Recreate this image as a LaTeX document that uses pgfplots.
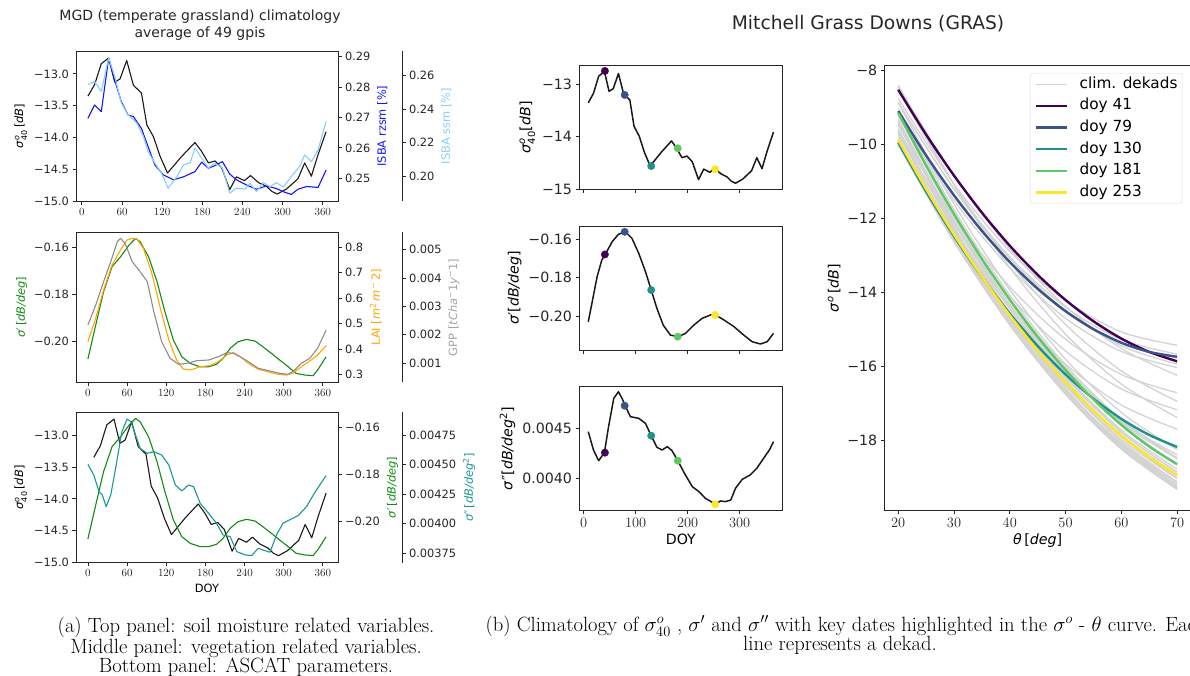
\documentclass[border=0pt]{standalone}
\usepackage{amsmath}
\usepackage{fontspec}
\usepackage{pgfplots}
\usepackage{pgfplotstable}
\pgfplotsset{compat=1.18}
\newfontfamily\dv{DejaVu Sans}
\newcommand{\fa}{\dv\fontsize{11.4pt}{13.7pt}\selectfont}
\newcommand{\fb}{\dv\fontsize{14.2pt}{17pt}\selectfont}
\newcommand{\sfz}{\textit{σ}$^{\textit{o}}_{\text{40}}$}
\definecolor{virA}{HTML}{440154}
\definecolor{virB}{HTML}{3B528B}
\definecolor{virC}{HTML}{21918C}
\definecolor{virD}{HTML}{5EC962}
\definecolor{virE}{HTML}{FDE725}
\definecolor{mblue}{HTML}{1414FF}
\definecolor{skyb}{HTML}{87CEFA}
\definecolor{mgreen}{HTML}{138A13}
\definecolor{morange}{HTML}{FFA500}
\definecolor{mgray}{HTML}{8C8C8C}
\definecolor{dcyan}{HTML}{1A9696}
\definecolor{clim}{HTML}{D3D3D3}

\pgfplotsset{
  base/.style={scale only axis, tick align=outside, major tick length=3.5pt,
    tick style={black!85, line width=0.8pt},
    axis line style={black!85, line width=0.8pt},
    ticklabel style={text=black!85},
    scaled x ticks=false, scaled y ticks=false,
    xtick pos=left, ytick pos=left,
    every axis plot/.append style={line join=round}},
  small/.style={base, ticklabel style={font=\fa}, label style={font=\fa}},
  big/.style={base, ticklabel style={font=\fb}, label style={font=\fb}},
  twin/.style={axis x line=none, axis y line*=right, ytick pos=right, yticklabel pos=right},
}

% sigma0 at 40 deg, dekad climatology
\pgfplotstableread{
doy s
9 -13.35
19 -13.17
29 -12.84
40 -12.75
49 -13.13
57 -13.08
67 -12.79
77 -13.18
89 -13.30
97 -13.80
107 -13.99
117 -14.30
128 -14.56
149 -14.30
169 -14.08
179 -14.22
189 -14.40
199 -14.37
209 -14.48
221 -14.82
231 -14.62
243 -14.68
252 -14.60
264 -14.71
276 -14.77
284 -14.85
292 -14.89
306 -14.81
323 -14.65
333 -14.40
343 -14.61
353 -14.27
365 -13.91
}\sigforty

% ISBA root-zone soil moisture
\pgfplotstableread{
doy v
9 0.2697
19 0.2741
29 0.2719
40 0.2895
49 0.2823
59 0.2752
69 0.2708
77 0.2703
89 0.2664
99 0.2604
109 0.2544
122 0.2511
137 0.2495
152 0.2505
169 0.2522
179 0.2553
189 0.2533
199 0.2542
210 0.2555
221 0.2514
231 0.2495
246 0.2478
261 0.2464
276 0.2475
291 0.2466
301 0.2456
313 0.2447
323 0.2464
336 0.2473
353 0.2470
365 0.2527
}\rzsm

% ISBA surface soil moisture
\pgfplotstableread{
doy v
9 0.2546
19 0.2566
29 0.2506
40 0.2707
49 0.2596
59 0.2437
69 0.2366
82 0.2317
92 0.2236
99 0.2146
109 0.2077
119 0.2017
129 0.1927
142 0.1996
152 0.2066
162 0.2080
169 0.2167
179 0.2107
189 0.2047
199 0.2077
210 0.2047
221 0.1897
231 0.1927
244 0.1921
251 0.1957
261 0.1906
271 0.1960
281 0.1936
291 0.1960
301 0.1933
313 0.1996
326 0.2060
333 0.2126
343 0.2086
353 0.2156
365 0.2326
}\ssm

% slope (daily, smoothed)
\pgfplotstableread{
doy v
0 -0.2073
12 -0.1929
24 -0.1788
37 -0.1682
50 -0.1640
63 -0.1590
73 -0.1562
80 -0.1576
93 -0.1640
106 -0.1746
118 -0.1873
131 -0.1993
144 -0.2064
157 -0.2092
172 -0.2106
185 -0.2106
197 -0.2096
207 -0.2071
218 -0.2028
230 -0.2000
243 -0.1990
256 -0.1997
268 -0.2021
281 -0.2049
294 -0.2078
307 -0.2106
319 -0.2134
332 -0.2141
345 -0.2144
352 -0.2120
365 -0.2064
}\slopeL

% leaf area index
\pgfplotstableread{
doy v
0 0.4286
12 0.5205
24 0.632
37 0.730
50 0.789
60 0.829
68 0.835
75 0.833
85 0.796
98 0.698
111 0.560
124 0.435
136 0.356
146 0.321
157 0.317
172 0.330
187 0.334
200 0.350
213 0.376
223 0.385
233 0.370
246 0.343
261 0.320
276 0.310
291 0.300
304 0.297
314 0.304
327 0.330
342 0.356
352 0.376
365 0.413
}\lai

% gross primary production
\pgfplotstableread{
doy v
0 0.002341
12 0.003047
24 0.003871
35 0.004576
45 0.005282
50 0.005400
57 0.005224
68 0.004576
80 0.004224
91 0.003871
101 0.002812
113 0.001753
126 0.001165
139 0.000953
152 0.000988
167 0.001082
185 0.001106
200 0.001224
213 0.001365
223 0.001341
233 0.001224
246 0.001047
261 0.000812
279 0.000718
294 0.000635
307 0.000600
317 0.000753
327 0.000988
340 0.001165
352 0.001518
365 0.002165
}\gpp

% curvature (daily, smoothed)
\pgfplotstableread{
doy v
0 0.004502
9 0.004412
17 0.004271
22 0.004243
28 0.004144
35 0.004243
42 0.004454
52 0.004778
60 0.004885
66 0.004863
73 0.004750
80 0.004637
91 0.004595
101 0.004609
113 0.004581
124 0.004496
134 0.004327
144 0.004277
154 0.004327
162 0.004313
172 0.004172
185 0.004088
197 0.004004
207 0.003905
218 0.003891
228 0.003764
241 0.003736
251 0.003730
261 0.003792
268 0.003778
279 0.003758
289 0.003905
299 0.004004
309 0.004032
322 0.004068
335 0.004144
347 0.004257
357 0.004342
365 0.004406
}\curvL

% slope, GRAS climatology
\pgfplotstableread{
doy v
9 -0.2028
16 -0.1933
26 -0.1795
35 -0.1709
42 -0.1678
55 -0.1614
67 -0.1576
80 -0.1562
93 -0.1597
106 -0.1674
119 -0.1769
130 -0.1864
141 -0.1959
153 -0.2045
167 -0.2097
182 -0.2105
196 -0.2088
212 -0.2045
228 -0.2010
244 -0.1993
254 -0.1993
270 -0.2019
289 -0.2053
308 -0.2097
324 -0.2131
340 -0.2143
353 -0.2131
365 -0.2088
}\slopeM

% curvature, GRAS climatology
\pgfplotstableread{
doy v
9 0.004470
19 0.004284
29 0.004176
40 0.004257
48 0.004520
58 0.004807
67 0.004875
74 0.004807
80 0.004733
90 0.004622
106 0.004605
119 0.004554
130 0.004429
141 0.004311
151 0.004284
161 0.004318
170 0.004277
181 0.004176
194 0.004047
209 0.003912
222 0.003861
234 0.003794
254 0.003733
263 0.003767
273 0.003760
283 0.003777
292 0.003895
305 0.003986
320 0.004030
333 0.004098
346 0.004199
358 0.004291
365 0.004368
}\curvM

\begin{document}
\begin{tikzpicture}[x=1pt,y=1pt]
\path[use as bounding box] (0,0) rectangle (1190,-675);

% ---------------- left column ----------------
\node[font=\dv\fontsize{14pt}{16.5pt}\selectfont, align=center, text=black!85] at (200,-25) {MGD (temperate grassland) climatology\\average of 49 gpis};

% top: soil moisture
\begin{axis}[small, at={(76pt,-51pt)}, anchor=north west, width=262pt, height=150pt,
  xmin=-8.8, xmax=382.8, ymin=-15.0, ymax=-12.64,
  xtick={0,60,120,180,240,300,360},
  ytick={-15,-14.5,-14,-13.5,-13}, yticklabels={−15.0,−14.5,−14.0,−13.5,−13.0},
  ylabel={\sfz\,[\textit{dB}]}]
\addplot[black!90, line width=1.1pt] table[x=doy,y=s] {\sigforty};
\end{axis}
\begin{axis}[small, twin, at={(76pt,-51pt)}, anchor=north west, width=262pt, height=150pt,
  xmin=-8.8, xmax=382.8, ymin=0.24253, ymax=0.29187,
  ytick={0.25,0.26,0.27,0.28,0.29}, yticklabels={0.25,0.26,0.27,0.28,0.29},
  ylabel={ISBA rzsm [\%]}, ylabel style={text=mblue}]
\addplot[mblue, line width=1.1pt] table[x=doy,y=v] {\rzsm};
\end{axis}
\begin{axis}[small, twin, at={(76pt,-51pt)}, anchor=north west, width=326pt, height=150pt,
  xmin=-8.8, xmax=478.46, ymin=0.185, ymax=0.2748,
  ytick={0.20,0.22,0.24,0.26}, yticklabels={0.20,0.22,0.24,0.26},
  ylabel={ISBA ssm [\%]}, ylabel style={text=skyb}]
\addplot[skyb, line width=1.1pt] table[x=doy,y=v] {\ssm};
\end{axis}

% middle: vegetation
\begin{axis}[small, at={(76pt,-232.3pt)}, anchor=north west, width=262pt, height=150pt,
  xmin=-18.25, xmax=383.25, ymin=-0.2172, ymax=-0.1536,
  xtick={0,60,120,180,240,300,360},
  ytick={-0.20,-0.18,-0.16}, yticklabels={−0.20,−0.18,−0.16},
  ylabel={\textit{σ}′\,[\textit{dB/deg}]}, ylabel style={text=mgreen}]
\addplot[mgreen, line width=1.1pt] table[x=doy,y=v] {\slopeL};
\end{axis}
\begin{axis}[small, twin, at={(76pt,-232.3pt)}, anchor=north west, width=262pt, height=150pt,
  xmin=-18.25, xmax=383.25, ymin=0.2685, ymax=0.859,
  ytick={0.3,0.4,0.5,0.6,0.7,0.8}, yticklabels={0.3,0.4,0.5,0.6,0.7,0.8},
  ylabel={LAI [\textit{m}$^{\text{2}}$\,\textit{m}$^{\text{−}}$\,2]}, ylabel style={text=morange}]
\addplot[morange, line width=1.1pt] table[x=doy,y=v] {\lai};
\end{axis}
\begin{axis}[small, twin, at={(76pt,-232.3pt)}, anchor=north west, width=326pt, height=150pt,
  xmin=-18.25, xmax=481.33, ymin=0.000318, ymax=0.005615,
  ytick={0.001,0.002,0.003,0.004,0.005}, yticklabels={0.001,0.002,0.003,0.004,0.005},
  ylabel={GPP [\textit{tCha}$^{\text{−}}$1\textit{y}$^{\text{−}}$1]}, ylabel style={text=mgray!80}]
\addplot[mgray, line width=1.1pt] table[x=doy,y=v] {\gpp};
\end{axis}

% bottom: ASCAT parameters
\begin{axis}[small, at={(76pt,-412.3pt)}, anchor=north west, width=262pt, height=150.4pt,
  xmin=-18.25, xmax=383.25, ymin=-15.0, ymax=-12.644,
  xtick={0,60,120,180,240,300,360}, xlabel={DOY},
  ytick={-15,-14.5,-14,-13.5,-13}, yticklabels={−15.0,−14.5,−14.0,−13.5,−13.0},
  ylabel={\sfz\,[\textit{dB}]}]
\addplot[black!90, line width=1.1pt] table[x=doy,y=s] {\sigforty};
\end{axis}
\begin{axis}[small, twin, at={(76pt,-412.3pt)}, anchor=north west, width=262pt, height=150.4pt,
  xmin=-18.25, xmax=383.25, ymin=-0.2174, ymax=-0.1536,
  ytick={-0.20,-0.18,-0.16}, yticklabels={−0.20,−0.18,−0.16},
  ylabel={\textit{σ}′\,[\textit{dB/deg}]}, ylabel style={text=mgreen}]
\addplot[mgreen, line width=1.1pt] table[x=doy,y=v] {\slopeL};
\end{axis}
\begin{axis}[small, twin, at={(76pt,-412.3pt)}, anchor=north west, width=326pt, height=150.4pt,
  xmin=-18.25, xmax=481.33, ymin=0.00367, ymax=0.004942,
  ytick={0.00375,0.004,0.00425,0.0045,0.00475}, yticklabels={0.00375,0.00400,0.00425,0.00450,0.00475},
  ylabel={\textit{σ}″\,[\textit{dB/deg}$^{\text{2}}$]}, ylabel style={text=dcyan}]
\addplot[dcyan, line width=1.1pt] table[x=doy,y=v] {\curvL};
\end{axis}

% ---------------- middle column ----------------
\node[font=\dv\fontsize{18.7pt}{22pt}\selectfont, text=black!85] at (868,-24) {Mitchell Grass Downs (GRAS)};

\begin{axis}[big, at={(579pt,-65.7pt)}, anchor=north west, width=203.7pt, height=123.3pt,
  xmin=-8.8, xmax=382.8, ymin=-15.0, ymax=-12.64,
  xtick={0,100,200,300}, xticklabels={},
  ytick={-15,-14,-13}, yticklabels={−15,−14,−13},
  ylabel={\sfz[\textit{dB}]}]
\addplot[black!90, line width=1.5pt] table[x=doy,y=s] {\sigforty};
\addplot[only marks, mark=*, mark size=3.7pt, virA] coordinates {(41,-12.74)};
\addplot[only marks, mark=*, mark size=3.7pt, virB] coordinates {(79,-13.20)};
\addplot[only marks, mark=*, mark size=3.7pt, virC] coordinates {(130,-14.56)};
\addplot[only marks, mark=*, mark size=3.7pt, virD] coordinates {(181,-14.22)};
\addplot[only marks, mark=*, mark size=3.7pt, virE] coordinates {(253,-14.62)};
\end{axis}

\begin{axis}[big, at={(579pt,-226pt)}, anchor=north west, width=203.7pt, height=124pt,
  xmin=-8.8, xmax=382.8, ymin=-0.2174, ymax=-0.1533,
  xtick={0,100,200,300}, xticklabels={},
  ytick={-0.20,-0.18,-0.16}, yticklabels={−0.20,−0.18,−0.16},
  ylabel={\textit{σ}′[\textit{dB/deg}]}]
\addplot[black!90, line width=1.5pt] table[x=doy,y=v] {\slopeM};
\addplot[only marks, mark=*, mark size=3.7pt, virA] coordinates {(41,-0.1680)};
\addplot[only marks, mark=*, mark size=3.7pt, virB] coordinates {(79,-0.1563)};
\addplot[only marks, mark=*, mark size=3.7pt, virC] coordinates {(130,-0.1864)};
\addplot[only marks, mark=*, mark size=3.7pt, virD] coordinates {(181,-0.2105)};
\addplot[only marks, mark=*, mark size=3.7pt, virE] coordinates {(253,-0.1993)};
\end{axis}

\begin{axis}[big, at={(579pt,-386.7pt)}, anchor=north west, width=203.7pt, height=124pt,
  xmin=-8.8, xmax=382.8, ymin=0.003668, ymax=0.004926,
  xtick={0,100,200,300}, xlabel={DOY},
  ytick={0.0040,0.0045}, yticklabels={0.0040,0.0045},
  ylabel={\textit{σ}″[\textit{dB/deg}$^{\text{2}}$]}]
\addplot[black!90, line width=1.5pt] table[x=doy,y=v] {\curvM};
\addplot[only marks, mark=*, mark size=3.7pt, virA] coordinates {(41,0.004257)};
\addplot[only marks, mark=*, mark size=3.7pt, virB] coordinates {(79,0.004733)};
\addplot[only marks, mark=*, mark size=3.7pt, virC] coordinates {(130,0.004429)};
\addplot[only marks, mark=*, mark size=3.7pt, virD] coordinates {(181,0.004176)};
\addplot[only marks, mark=*, mark size=3.7pt, virE] coordinates {(253,0.003733)};
\end{axis}

% ---------------- right panel: backscatter vs incidence angle ----------------
\begin{axis}[big, at={(884.3pt,-65.7pt)}, anchor=north west, width=306.7pt, height=445pt,
  xmin=17.5, xmax=72.5, ymin=-19.89, ymax=-7.884,
  xtick={20,30,40,50,60,70},
  ytick={-18,-16,-14,-12,-10,-8}, yticklabels={−18,−16,−14,−12,−10,−8},
  xlabel={\textit{θ}\,[\textit{deg}]}, ylabel={\textit{σ}$^{\textit{o}}$\,[\textit{dB}]},
  legend cell align=left,
  legend image code/.code={\draw[#1] (0pt,0pt) -- (31pt,0pt);},
  legend style={at={(0.973,0.983)}, anchor=north east, font=\dv\fontsize{15.3pt}{18pt}\selectfont,
    draw=black!15, rounded corners=3pt, fill=white, fill opacity=0.85, text opacity=1,
    inner xsep=5pt, inner ysep=4pt, row sep=7.8pt,
    nodes={inner sep=0pt, text height=10.8pt, text depth=3pt},
    /tikz/every odd column/.append style={column sep=11pt}},
  every axis plot/.append style={smooth}]
\addplot[clim, line width=1.3pt] coordinates {(20,-8.408)(30,-11.092)(40,-13.33)(50,-15.124)(60,-16.472)(70,-17.376)};
\addlegendentry{clim. dekads}
\addplot[clim, line width=1.3pt, forget plot] coordinates {(20,-8.55)(30,-11.084)(40,-13.19)(50,-14.868)(60,-16.118)(70,-16.94)};
\addplot[clim, line width=1.3pt, forget plot] coordinates {(20,-8.452)(30,-10.845)(40,-12.82)(50,-14.377)(60,-15.516)(70,-16.237)};
\addplot[clim, line width=1.3pt, forget plot] coordinates {(20,-8.514)(30,-10.84)(40,-12.74)(50,-14.214)(60,-15.262)(70,-15.884)};
\addplot[clim, line width=1.3pt, forget plot] coordinates {(20,-8.886)(30,-11.212)(40,-13.08)(50,-14.49)(60,-15.442)(70,-15.936)};
\addplot[clim, line width=1.3pt, forget plot] coordinates {(20,-8.88)(30,-11.201)(40,-13.04)(50,-14.397)(60,-15.272)(70,-15.665)};
\addplot[clim, line width=1.3pt, forget plot] coordinates {(20,-8.774)(30,-11.075)(40,-12.89)(50,-14.221)(60,-15.066)(70,-15.427)};
\addplot[clim, line width=1.3pt, forget plot] coordinates {(20,-9.14)(30,-11.412)(40,-13.21)(50,-14.536)(60,-15.388)(70,-15.768)};
\addplot[clim, line width=1.3pt, forget plot] coordinates {(20,-9.238)(30,-11.52)(40,-13.34)(50,-14.698)(60,-15.594)(70,-16.028)};
\addplot[clim, line width=1.3pt, forget plot] coordinates {(20,-9.64)(30,-11.976)(40,-13.85)(50,-15.264)(60,-16.216)(70,-16.708)};
\addplot[clim, line width=1.3pt, forget plot] coordinates {(20,-9.76)(30,-12.16)(40,-14.10)(50,-15.582)(60,-16.604)(70,-17.168)};
\addplot[clim, line width=1.3pt, forget plot] coordinates {(20,-9.892)(30,-12.358)(40,-14.37)(50,-15.93)(60,-17.036)(70,-17.69)};
\addplot[clim, line width=1.3pt, forget plot] coordinates {(20,-9.93)(30,-12.466)(40,-14.56)(50,-16.212)(60,-17.422)(70,-18.19)};
\addplot[clim, line width=1.3pt, forget plot] coordinates {(20,-9.66)(30,-12.266)(40,-14.44)(50,-16.184)(60,-17.496)(70,-18.378)};
\addplot[clim, line width=1.3pt, forget plot] coordinates {(20,-9.402)(30,-12.075)(40,-14.32)(50,-16.137)(60,-17.526)(70,-18.487)};
\addplot[clim, line width=1.3pt, forget plot] coordinates {(20,-9.152)(30,-11.877)(40,-14.17)(50,-16.033)(60,-17.464)(70,-18.465)};
\addplot[clim, line width=1.3pt, forget plot] coordinates {(20,-9.028)(30,-11.767)(40,-14.08)(50,-15.967)(60,-17.428)(70,-18.463)};
\addplot[clim, line width=1.3pt, forget plot] coordinates {(20,-9.146)(30,-11.877)(40,-14.19)(50,-16.087)(60,-17.566)(70,-18.629)};
\addplot[clim, line width=1.3pt, forget plot] coordinates {(20,-9.4)(30,-12.104)(40,-14.40)(50,-16.29)(60,-17.772)(70,-18.848)};
\addplot[clim, line width=1.3pt, forget plot] coordinates {(20,-9.482)(30,-12.15)(40,-14.42)(50,-16.294)(60,-17.77)(70,-18.85)};
\addplot[clim, line width=1.3pt, forget plot] coordinates {(20,-9.67)(30,-12.3)(40,-14.54)(50,-16.39)(60,-17.85)(70,-18.92)};
\addplot[clim, line width=1.3pt, forget plot] coordinates {(20,-9.986)(30,-12.586)(40,-14.80)(50,-16.628)(60,-18.07)(70,-19.126)};
\addplot[clim, line width=1.3pt, forget plot] coordinates {(20,-9.852)(30,-12.426)(40,-14.62)(50,-16.434)(60,-17.868)(70,-18.922)};
\addplot[clim, line width=1.3pt, forget plot] coordinates {(20,-9.918)(30,-12.478)(40,-14.66)(50,-16.466)(60,-17.894)(70,-18.946)};
\addplot[clim, line width=1.3pt, forget plot] coordinates {(20,-9.888)(30,-12.441)(40,-14.62)(50,-16.427)(60,-17.86)(70,-18.921)};
\addplot[clim, line width=1.3pt, forget plot] coordinates {(20,-9.93)(30,-12.504)(40,-14.70)(50,-16.52)(60,-17.962)(70,-19.028)};
\addplot[clim, line width=1.3pt, forget plot] coordinates {(20,-10.0)(30,-12.588)(40,-14.80)(50,-16.636)(60,-18.096)(70,-19.18)};
\addplot[clim, line width=1.3pt, forget plot] coordinates {(20,-10.024)(30,-12.637)(40,-14.87)(50,-16.725)(60,-18.2)(70,-19.297)};
\addplot[clim, line width=1.3pt, forget plot] coordinates {(20,-9.968)(30,-12.62)(40,-14.88)(50,-16.75)(60,-18.228)(70,-19.316)};
\addplot[clim, line width=1.3pt, forget plot] coordinates {(20,-9.838)(30,-12.523)(40,-14.81)(50,-16.699)(60,-18.19)(70,-19.283)};
\addplot[clim, line width=1.3pt, forget plot] coordinates {(20,-9.718)(30,-12.43)(40,-14.74)(50,-16.65)(60,-18.158)(70,-19.266)};
\addplot[clim, line width=1.3pt, forget plot] coordinates {(20,-9.588)(30,-12.327)(40,-14.66)(50,-16.589)(60,-18.112)(70,-19.231)};
\addplot[clim, line width=1.3pt, forget plot] coordinates {(20,-9.332)(30,-12.086)(40,-14.43)(50,-16.364)(60,-17.888)(70,-19.002)};
\addplot[clim, line width=1.3pt, forget plot] coordinates {(20,-9.466)(30,-12.233)(40,-14.58)(50,-16.509)(60,-18.018)(70,-19.109)};
\addplot[clim, line width=1.3pt, forget plot] coordinates {(20,-9.218)(30,-11.983)(40,-14.32)(50,-16.231)(60,-17.714)(70,-18.771)};
\addplot[clim, line width=1.3pt, forget plot] coordinates {(20,-8.876)(30,-11.621)(40,-13.93)(50,-15.803)(60,-17.24)(70,-18.241)};
\addplot[virA, line width=2.4pt] coordinates {(20,-8.533)(25,-9.744)(30,-10.849)(35,-11.848)(40,-12.74)(45,-13.526)(50,-14.205)(55,-14.778)(60,-15.245)(65,-15.605)(70,-15.858)};
\addlegendentry{doy 41}
\addplot[virB, line width=2.4pt] coordinates {(20,-9.109)(25,-10.305)(30,-11.381)(35,-12.340)(40,-13.18)(45,-13.902)(50,-14.505)(55,-14.991)(60,-15.357)(65,-15.606)(70,-15.736)};
\addlegendentry{doy 79}
\addplot[virC, line width=2.4pt] coordinates {(20,-9.956)(25,-11.276)(30,-12.485)(35,-13.583)(40,-14.57)(45,-15.447)(50,-16.213)(55,-16.868)(60,-17.412)(65,-17.846)(70,-18.169)};
\addlegendentry{doy 130}
\addplot[virD, line width=2.4pt] coordinates {(20,-9.155)(25,-10.573)(30,-11.886)(35,-13.095)(40,-14.20)(45,-15.200)(50,-16.096)(55,-16.888)(60,-17.575)(65,-18.158)(70,-18.636)};
\addlegendentry{doy 181}
\addplot[virE, line width=2.4pt] coordinates {(20,-9.883)(25,-11.208)(30,-12.438)(35,-13.576)(40,-14.62)(45,-15.571)(50,-16.428)(55,-17.193)(60,-17.863)(65,-18.441)(70,-18.925)};
\addlegendentry{doy 253}
\end{axis}

% ---------------- captions ----------------
\node[font=\fontsize{20.6pt}{18pt}\selectfont, align=center] at (246,-647) {(a) Top panel: soil moisture related variables.\\Middle panel: vegetation related variables.\\Bottom panel: ASCAT parameters.};
\node[font=\fontsize{20.6pt}{18pt}\selectfont, anchor=west] at (482,-626) {(b) Climatology of $\sigma^{o}_{40}$ , $\sigma'$ and $\sigma''$ with key dates highlighted in the $\sigma^{o}$ - $\theta$ curve. Each};
\node[font=\fontsize{20.6pt}{18pt}\selectfont] at (840,-645) {line represents a dekad.};
\end{tikzpicture}
\end{document}
